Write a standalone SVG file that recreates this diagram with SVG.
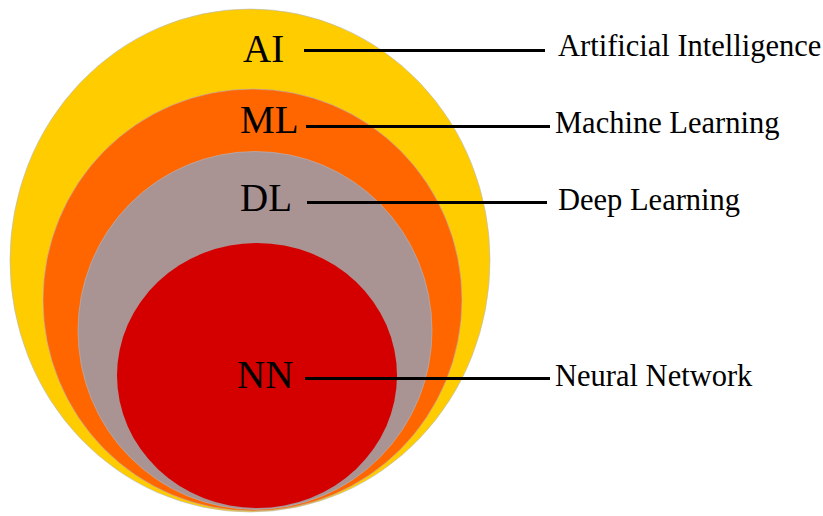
<svg xmlns="http://www.w3.org/2000/svg" width="823" height="516" viewBox="0 0 823 516">
<style>
.ring{stroke:#b4b8c8;stroke-width:0.6}
.abbr{font-family:"Liberation Serif","Times New Roman",serif;font-size:39px;fill:#000}
.lbl{font-family:"Liberation Serif","Times New Roman",serif;font-size:30.5px;fill:#000}
.conn{stroke:#000;stroke-width:3;fill:none}
</style>
<rect width="823" height="516" fill="#fff"/>
<g id="ai"><ellipse class="ring" cx="250" cy="260.5" rx="240" ry="251.5" fill="#ffcc00"/></g>
<g id="ml"><ellipse class="ring" cx="252.5" cy="300" rx="209.5" ry="211" fill="#ff6600"/></g>
<g id="dl"><ellipse class="ring" cx="255" cy="330.5" rx="177" ry="179" fill="#aa9393"/></g>
<g id="nn"><ellipse cx="257" cy="375.5" rx="140" ry="132.5" fill="#d40000"/></g>
<g id="connectors">
<line class="conn" x1="304" y1="50.5" x2="545" y2="50.5"/>
<line class="conn" x1="306" y1="126.5" x2="550" y2="126.5"/>
<line class="conn" x1="307" y1="202.5" x2="547" y2="202.5"/>
<line class="conn" x1="305" y1="378.5" x2="550" y2="378.5"/>
</g>
<g id="abbrs">
<text class="abbr" x="243" y="62">AI</text>
<text class="abbr" x="240" y="133">ML</text>
<text class="abbr" x="240" y="211">DL</text>
<text class="abbr" x="237" y="388">NN</text>
</g>
<g id="labels">
<text class="lbl" x="558" y="56">Artificial Intelligence</text>
<text class="lbl" x="555" y="133">Machine Learning</text>
<text class="lbl" x="558" y="210">Deep Learning</text>
<text class="lbl" x="555" y="386">Neural Network</text>
</g>
</svg>
